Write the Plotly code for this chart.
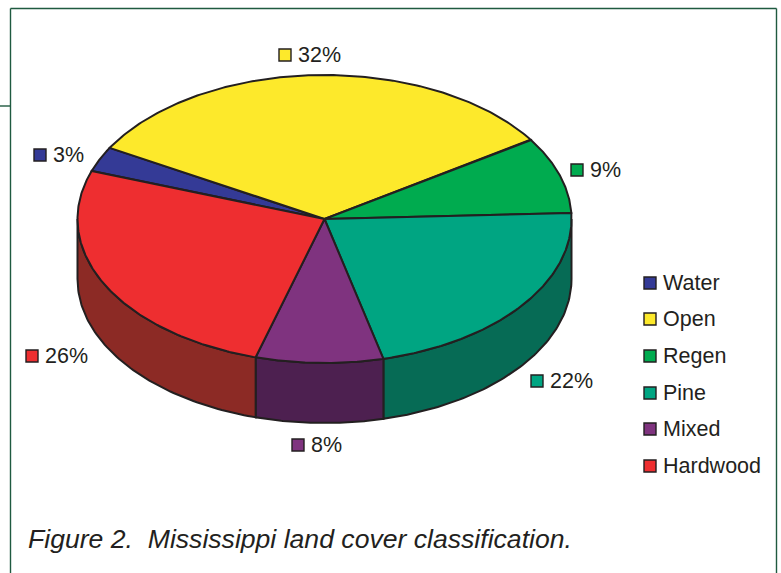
import numpy as np
import plotly.graph_objects as go

categories = ["Water", "Open", "Regen", "Pine", "Mixed", "Hardwood"]
shares = [2.8, 32.49, 8.63, 21.83, 8.33, 25.92]
top_colors = ["#343A96", "#FDE92B", "#00AB4F", "#00A582", "#7F337F", "#EE2E30"]
side_colors = ["#1F2360", "#A09018", "#006B35", "#066B55", "#4D2050", "#8C2A25"]
label_squares_x = [40, 285, 577, 537, 298, 32]
label_squares_y = [155, 55, 170, 381, 445, 356]
legend_y = [283, 319, 356, 393, 429, 466]

W, H = 781, 573
CX, CY, RX, RY, DEPTH = 324.5, 219, 247, 144, 60
START = 160.5
INK = "#231F20"
FRAME = "#1F5A40"
FONT = "Liberation Sans, Arial, sans-serif"


def ellipse(theta_deg, dy=0.0):
    t = np.radians(theta_deg)
    return CX + RX * np.cos(t), CY - RY * np.sin(t) + dy


fig = go.Figure()

# boundaries, going clockwise
spans = np.array(shares) * 3.6
ends = START - np.cumsum(spans)
starts = ends + spans

# side walls: only the part of each slice on the front half of the disc
for th0, th1, name, col in zip(starts, ends, categories, side_colors):
    for offset in (0, -360):
        a = min(th0 + offset, -0.0)
        b = max(th1 + offset, -180.0)
        if a <= b:
            continue
        th = np.linspace(a, b, 80)
        x1, y1 = ellipse(th)
        x2, y2 = ellipse(th[::-1], DEPTH)
        fig.add_trace(go.Scatter(
            x=np.r_[x1, x2, x1[0]], y=np.r_[y1, y2, y1[0]],
            mode="lines", fill="toself", fillcolor=col,
            line=dict(color=INK, width=2), name=name,
            showlegend=False, hoverinfo="skip"))

# top faces
for th0, th1, name, col, v in zip(starts, ends, categories, top_colors, shares):
    th = np.linspace(th0, th1, 160)
    x, y = ellipse(th)
    fig.add_trace(go.Scatter(
        x=np.r_[CX, x, CX], y=np.r_[CY, y, CY],
        mode="lines", fill="toself", fillcolor=col,
        line=dict(color=INK, width=2), name=name,
        showlegend=False, hovertemplate=f"{name}: {round(v)}%<extra></extra>"))

annotations = []


def text(x, y, s, size=21.5, **kw):
    annotations.append(dict(x=x, y=y, text=s, showarrow=False, xanchor="left",
                            yanchor="middle", font=dict(family=FONT, size=size, color=INK), **kw))


# percentage labels
fig.add_trace(go.Scatter(
    x=label_squares_x, y=label_squares_y, mode="markers",
    marker=dict(symbol="square", size=12, color=top_colors, line=dict(color=INK, width=1.4)),
    showlegend=False, hoverinfo="skip"))
for sx, sy, v in zip(label_squares_x, label_squares_y, shares):
    text(sx + 11, sy, f"{round(v)}%")

# legend
fig.add_trace(go.Scatter(
    x=[650] * len(categories), y=legend_y, mode="markers",
    marker=dict(symbol="square", size=12, color=top_colors, line=dict(color=INK, width=1.4)),
    showlegend=False, hoverinfo="skip"))
for ly, name in zip(legend_y, categories):
    text(660.5, ly, name)

text(26, 539, "<i>Figure 2.  Mississippi land cover classification.</i>", size=26.6)

line = dict(color=FRAME, width=1.4)
shapes = [
    dict(type="line", x0=10.5, x1=776.5, y0=8.5, y1=8.5, line=line),
    dict(type="line", x0=10.5, x1=10.5, y0=8.5, y1=573, line=line),
    dict(type="line", x0=776.5, x1=776.5, y0=8.5, y1=573, line=line),
    dict(type="line", x0=0, x1=10.5, y0=106, y1=106, line=line),
]

fig.update_layout(
    width=W, height=H, autosize=False,
    margin=dict(l=0, r=0, t=0, b=0),
    paper_bgcolor="white", plot_bgcolor="white",
    xaxis=dict(range=[0, W], visible=False, fixedrange=True),
    yaxis=dict(range=[H, 0], visible=False, fixedrange=True),
    annotations=annotations, shapes=shapes, showlegend=False,
)
fig.write_html("out.html", config={"displayModeBar": False},
               post_script="document.body.style.margin='0';document.documentElement.style.overflow='hidden';")
